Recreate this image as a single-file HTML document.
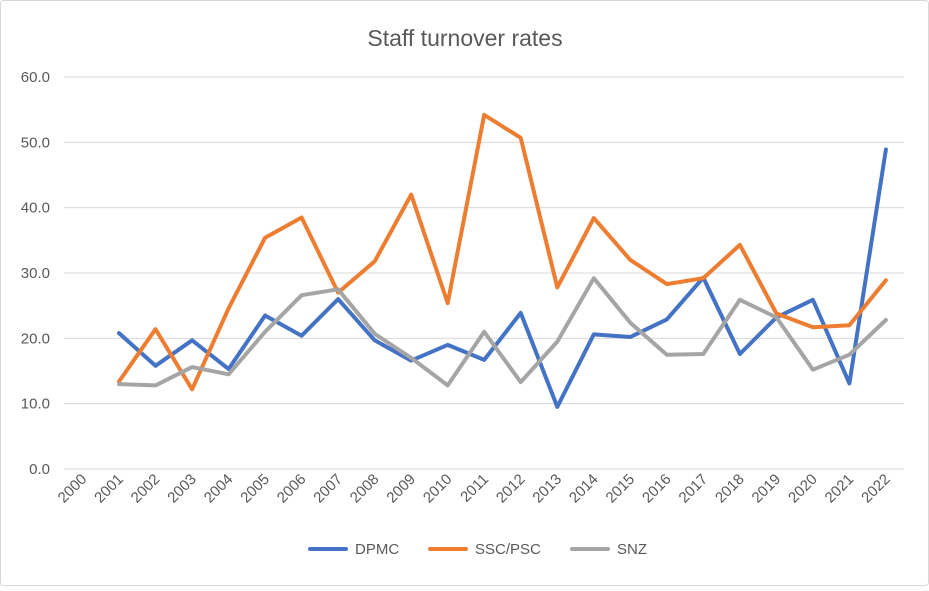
<!DOCTYPE html>
<html><head><meta charset="utf-8"><style>
html,body{margin:0;padding:0;background:#fff;}
svg text{font-family:"Liberation Sans",sans-serif;fill:#595959;}
</style></head><body>
<svg id="s" width="929" height="586" xmlns="http://www.w3.org/2000/svg">
<rect x="0.5" y="0.5" width="928" height="585" fill="#fff" stroke="#d9d9d9" rx="3"/>
<text x="465" y="46" font-size="23" text-anchor="middle">Staff turnover rates</text>
<g id="g"></g>
</svg>
<script>
const g=document.getElementById('g');
const Y=v=>469-v*6.533, X=i=>82.5+i*36.52;
let h='';
for(let v=0;v<=60;v+=10){const y=Y(v);h+=`<line x1="64" x2="904" y1="${y}" y2="${y}" stroke="#d9d9d9" stroke-width="1"/>`;
h+=`<text x="50" y="${y+5}" font-size="15" text-anchor="end">${v.toFixed(1)}</text>`;}
for(let i=0;i<23;i++){const x=X(i)+5,y=480;h+=`<text x="${x}" y="${y}" font-size="15" text-anchor="end" transform="rotate(-45 ${x} ${y})">${2000+i}</text>`;}
const d={
'#4472c4':[20.8,15.8,19.7,15.3,23.5,20.4,26,19.7,16.6,19,16.7,23.9,9.5,20.6,20.2,22.9,29.3,17.6,23.2,25.9,13.1,48.9],
'#ed7d31':[13.4,21.4,12.2,24.6,35.4,38.5,27,31.8,42,25.4,54.2,50.7,27.8,38.4,32,28.3,29.2,34.3,23.8,21.7,22,28.9],
'#a5a5a5':[13,12.8,15.6,14.5,21,26.6,27.5,20.7,17,12.8,21,13.3,19.5,29.2,22.4,17.5,17.6,25.9,23.2,15.2,17.5,22.8]};
const order=['#4472c4','#ed7d31','#a5a5a5'];
for(const c of order){const p=d[c].map((v,i)=>X(i+1).toFixed(1)+','+Y(v).toFixed(1)).join(' ');
h+=`<polyline points="${p}" fill="none" stroke="${c}" stroke-width="4" stroke-linejoin="round" stroke-linecap="round"/>`;}
const L=[[310,'#4472c4','DPMC'],[430,'#ed7d31','SSC/PSC'],[572,'#a5a5a5','SNZ']];
for(const [x,c,t] of L){h+=`<line x1="${x}" x2="${x+36}" y1="549" y2="549" stroke="${c}" stroke-width="4" stroke-linecap="round"/><text x="${x+45}" y="554" font-size="15">${t}</text>`;}
g.innerHTML=h;
</script>
</body></html>
